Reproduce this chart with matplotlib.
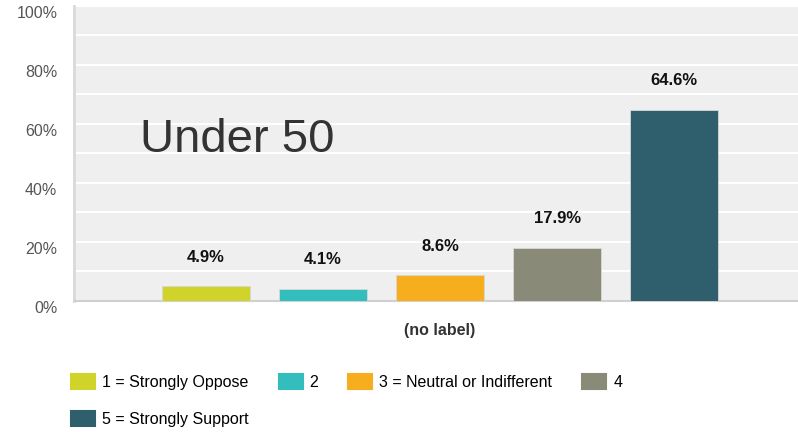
import matplotlib
matplotlib.use('Agg')
import matplotlib.pyplot as plt
from matplotlib.patches import Patch
from matplotlib.transforms import ScaledTranslation

plt.rcParams['font.family'] = ['Liberation Sans', 'DejaVu Sans']

labels = ['1 = Strongly Oppose', '2', '3 = Neutral or Indifferent', '4', '5 = Strongly Support']
values = [4.9, 4.1, 8.6, 17.9, 64.6]
colors = ['#d0d42a', '#33bdbd', '#f6ae1f', '#8a8a78', '#2f5f6c']
y_ticks = [0, 20, 40, 60, 80, 100]

fig = plt.figure(figsize=(7.98, 4.32), dpi=100)
ax = fig.add_axes([74 / 798, 1 - 300.7 / 432, 724 / 798, (300.7 - 5.7) / 432])
ax.set_facecolor('#efefef')

x = list(range(len(values)))
bars = ax.bar(x, values, width=0.752, color=colors, edgecolor='#d8d8d8', linewidth=0.6, zorder=3)
for xi, v in zip(x, values):
    ax.annotate(f'{v}%', (xi, v), xytext=(0, 21), textcoords='offset points',
                ha='center', va='center', fontsize=12, fontweight='bold', color='#111111')

ax.set_xlim(-1.127, 5.056)
ax.set_ylim(0, 100)
ax.set_xticks([])
ax.set_yticks(y_ticks)
ax.set_yticklabels([f'{t}%' for t in y_ticks])
ax.set_yticks(range(10, 100, 20), minor=True)
ax.grid(axis='y', which='both', color='white', linewidth=1.5, zorder=0)
ax.tick_params(axis='y', which='both', length=0, pad=12, labelsize=11.5, labelcolor='#555555')
for lab in ax.get_yticklabels():
    lab.set_transform(lab.get_transform() + ScaledTranslation(0, -6 / 100, fig.dpi_scale_trans))

for s in ['top', 'right']:
    ax.spines[s].set_visible(False)
ax.spines['left'].set_color('#d9d9d9')
ax.spines['left'].set_linewidth(2)
ax.spines['bottom'].set_color('#d0d0d0')
ax.spines['bottom'].set_linewidth(1.5)

fig.text(140 / 798, 1 - 151.7 / 432, 'Under 50', fontsize=34, color='#333333', va='baseline', ha='left')
fig.text(440 / 798, 1 - 330 / 432, '(no label)', fontsize=11.5, fontweight='bold', color='#333333',
         ha='center', va='center')

handles = [Patch(facecolor=c, edgecolor=c, capstyle='round', joinstyle='round', linewidth=1.5) for c in colors]
order = [0, 4, 1, 2, 3]
fig.legend([handles[i] for i in order], [labels[i] for i in order], ncol=4,
           loc='upper left', bbox_to_anchor=(71 / 798, 1 - 374 / 432), frameon=False,
           fontsize=11.5, handlelength=1.5, handleheight=1.06, handletextpad=0.44,
           columnspacing=1.88, labelspacing=1.3, borderpad=0, borderaxespad=0)

fig.savefig('out.png', dpi=100)
